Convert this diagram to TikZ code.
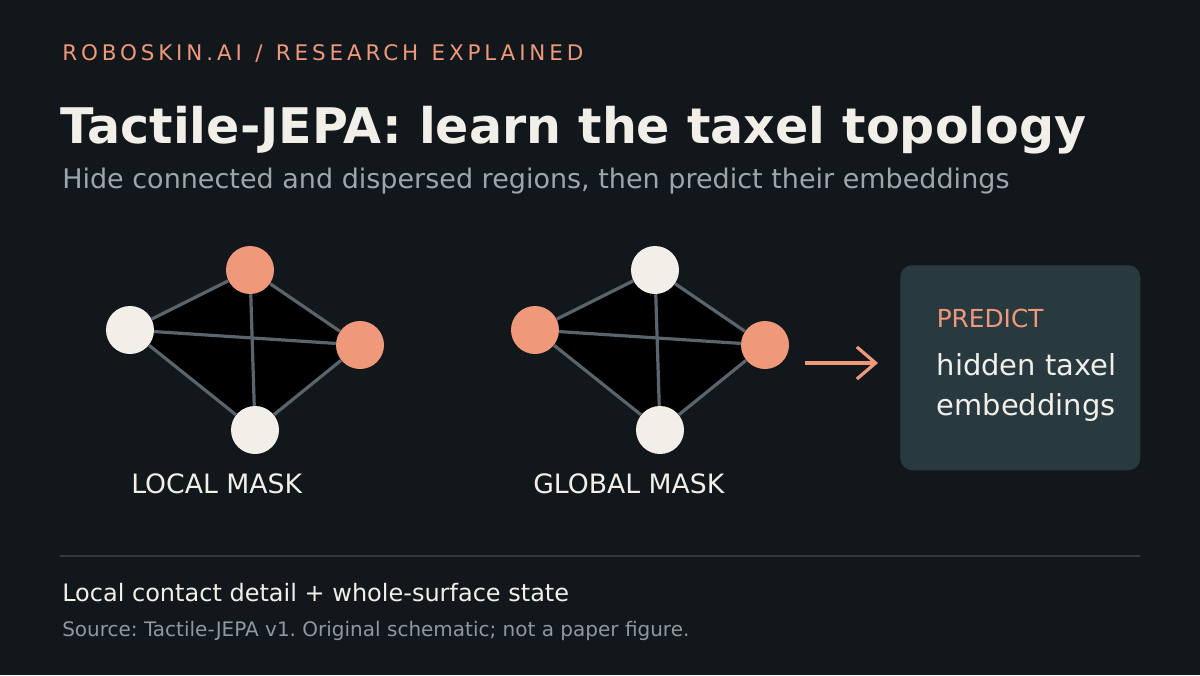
\documentclass[tikz,border=0pt]{standalone}
\usepackage{fontspec}
\setmainfont{DejaVu Sans}
\newfontfamily\trackfont[LetterSpace=18,WordSpace=1.25]{DejaVu Sans}
\usetikzlibrary{arrows.meta,backgrounds}
\definecolor{bgc}{HTML}{12171B}
\definecolor{accent}{HTML}{F0997A}
\definecolor{ink}{HTML}{F2EFE9}
\definecolor{subg}{HTML}{9BA6AF}
\definecolor{srcg}{HTML}{8E98A1}
\definecolor{edgec}{HTML}{5A646C}
\definecolor{boxc}{HTML}{283A40}
\definecolor{rulec}{HTML}{33393E}
\frenchspacing
\begin{document}
\begin{tikzpicture}[x=0.75pt,y=-0.75pt,
  txt/.style={anchor=base west,inner sep=0pt},
  taxw/.style={circle,minimum size=36pt,inner sep=0pt,fill=ink},
  taxo/.style={circle,minimum size=36pt,inner sep=0pt,fill=accent},
  link/.style={draw=edgec,line width=2.4pt},
  arr/.style={draw=accent,line width=2.4pt,-{Straight Barb[length=14pt,width=24pt,line width=2.4pt]}}]
\begin{pgfonlayer}{background}
\fill[bgc] (0,0) rectangle (1200,675);
\end{pgfonlayer}
\useasboundingbox (0,0) rectangle (1200,675);

% header
\node[txt,text=accent,font=\trackfont\fontsize{16.1pt}{19pt}\selectfont] (hdr) at (62,60.7) {ROBOSKIN.AI / RESEARCH EXPLAINED};
\node[txt,text=ink,font=\bfseries\fontsize{36.8pt}{42pt}\selectfont] (title) at (60,143.3) {Tactile-JEPA: learn the taxel topology};
\node[txt,text=subg,font=\fontsize{20.25pt}{24pt}\selectfont] (sub) at (62,188.3) {Hide connected and dispersed regions, then predict their embeddings};

% local mask graph
\node[taxo] (lt) at (250,270) {};
\node[taxw] (ll) at (130,330) {};
\node[taxo] (lr) at (360,345) {};
\node[taxw] (lb) at (255,430) {};
\begin{pgfonlayer}{background}
\fill[black] (lt.center) -- (lr.center) -- (lb.center) -- (ll.center) -- cycle;
\end{pgfonlayer}
\draw[link] (ll) -- (lt);
\draw[link] (lt) -- (lr);
\draw[link] (lr) -- (lb);
\draw[link] (lb) -- (ll);
\draw[link] (ll) -- (lr);
\draw[link] (lt) -- (lb);
\node[txt,text=ink,font=\fontsize{20pt}{24pt}\selectfont] (lcap) at (131,493.3) {LOCAL MASK};

% global mask graph
\node[taxw] (gt) at (655,270) {};
\node[taxo] (gl) at (535,330) {};
\node[taxo] (gr) at (765,345) {};
\node[taxw] (gb) at (660,430) {};
\begin{pgfonlayer}{background}
\fill[black] (gt.center) -- (gr.center) -- (gb.center) -- (gl.center) -- cycle;
\end{pgfonlayer}
\draw[link] (gl) -- (gt);
\draw[link] (gt) -- (gr);
\draw[link] (gr) -- (gb);
\draw[link] (gb) -- (gl);
\draw[link] (gl) -- (gr);
\draw[link] (gt) -- (gb);
\node[txt,text=ink,font=\fontsize{20pt}{24pt}\selectfont] (gcap) at (533,493.3) {GLOBAL MASK};

% predict box
\node[fill=boxc,rounded corners=9pt,minimum width=180pt,minimum height=153.75pt,inner sep=0pt,anchor=north west] (box) at (900,265) {};
\node[txt,text=accent,font=\fontsize{18.6pt}{22pt}\selectfont] (pred) at (936.5,327.3) {PREDICT};
\node[txt,text=ink,font=\fontsize{21.7pt}{26pt}\selectfont] (hid1) at (936.5,375.7) {hidden taxel};
\node[txt,text=ink,font=\fontsize{21.7pt}{26pt}\selectfont] (hid2) at (936.5,415.7) {embeddings};

% arrow
\coordinate (aS) at (805,363);
\coordinate (aE) at (878,363);
\draw[arr] (aS) -- (aE);

% footer
\coordinate (r1) at (60,555.7);
\coordinate (r2) at (1140,555.7);
\draw[rulec,line width=1.5pt] (r1) -- (r2);
\node[txt,text=ink,font=\fontsize{18pt}{21pt}\selectfont] (foot) at (62,601) {Local contact detail + whole-surface state};
\node[txt,text=srcg,font=\fontsize{15pt}{18pt}\selectfont] (src) at (62,636) {Source: Tactile-JEPA v1. Original schematic; not a paper figure.};
\end{tikzpicture}
\end{document}
